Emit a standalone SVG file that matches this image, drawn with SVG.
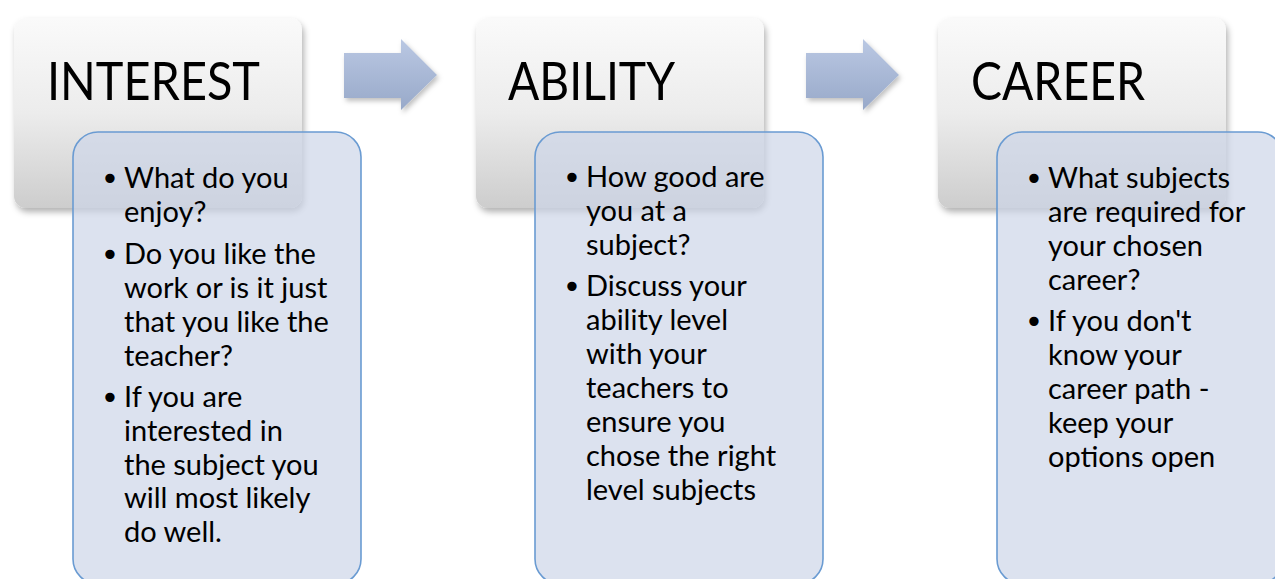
<svg xmlns="http://www.w3.org/2000/svg" width="1275" height="579" viewBox="0 0 1275 579">
  <defs>
    <linearGradient id="gHead" x1="0" y1="0" x2="0" y2="1">
      <stop offset="0" stop-color="#fafafa"/>
      <stop offset="0.5" stop-color="#ececec"/>
      <stop offset="1" stop-color="#cdcdcd"/>
    </linearGradient>
    <linearGradient id="gArrow" x1="0" y1="0" x2="0" y2="1">
      <stop offset="0" stop-color="#bac8e3"/>
      <stop offset="1" stop-color="#98a9c9"/>
    </linearGradient>
    <filter id="shadow" x="-10%" y="-10%" width="125%" height="130%">
      <feDropShadow dx="2" dy="4" stdDeviation="3" flood-color="#000" flood-opacity="0.3"/>
    </filter>
    <filter id="ashadow" x="-10%" y="-10%" width="130%" height="140%">
      <feDropShadow dx="2" dy="3" stdDeviation="2.5" flood-color="#000" flood-opacity="0.25"/>
    </filter>
  </defs>
  <style>
    .head { fill: url(#gHead); filter: url(#shadow); }
    .card { fill: rgb(205,214,232); fill-opacity: 0.7; stroke: #6a9bd2; stroke-width: 1.6; }
    .arrow { fill: url(#gArrow); filter: url(#ashadow); }
    .title { font-family: Lato, "Open Sans", sans-serif; font-size: 52px; fill: #000; }
    .body { font-family: Lato, "Open Sans", sans-serif; font-size: 29px; fill: #000; }
    .bul { font-family: "DejaVu Sans", sans-serif; font-size: 32px; fill: #000; text-anchor: middle; }
  </style>
  <rect width="1275" height="579" fill="#ffffff"/>

  <g id="connectors">
    <path class="arrow" d="M344,53 H401 V39 L437,75 L401,110 V98 H344 Z"/>
    <path class="arrow" d="M806,53 H863 V39 L899,75 L863,110 V98 H806 Z"/>
  </g>

  <g id="interest">
    <rect class="head" x="14" y="18" width="288" height="190" rx="12"/>
    <text class="title" x="47" y="100" textLength="213" lengthAdjust="spacingAndGlyphs">INTEREST</text>
    <rect class="card" x="73" y="132" width="288" height="452" rx="25"/>
    <text class="bul" x="110" y="190">•</text>
    <text class="body" x="124" y="188">What do you</text>
    <text class="body" x="124" y="222">enjoy?</text>
    <text class="bul" x="110" y="266">•</text>
    <text class="body" x="124" y="264">Do you like the</text>
    <text class="body" x="124" y="298">work or is it just</text>
    <text class="body" x="124" y="332">that you like the</text>
    <text class="body" x="124" y="366">teacher?</text>
    <text class="bul" x="110" y="409">•</text>
    <text class="body" x="124" y="407">If you are</text>
    <text class="body" x="124" y="441">interested in</text>
    <text class="body" x="124" y="475">the subject you</text>
    <text class="body" x="124" y="508">will most likely</text>
    <text class="body" x="124" y="542">do well.</text>
  </g>

  <g id="ability">
    <rect class="head" x="476" y="18" width="288" height="190" rx="12"/>
    <text class="title" x="508" y="100" textLength="167" lengthAdjust="spacingAndGlyphs">ABILITY</text>
    <rect class="card" x="535" y="132" width="288" height="452" rx="25"/>
    <text class="bul" x="572" y="189">•</text>
    <text class="body" x="586" y="187">How good are</text>
    <text class="body" x="586" y="221">you at a</text>
    <text class="body" x="586" y="255">subject?</text>
    <text class="bul" x="572" y="298">•</text>
    <text class="body" x="586" y="296">Discuss your</text>
    <text class="body" x="586" y="330">ability level</text>
    <text class="body" x="586" y="364">with your</text>
    <text class="body" x="586" y="398">teachers to</text>
    <text class="body" x="586" y="432">ensure you</text>
    <text class="body" x="586" y="466">chose the right</text>
    <text class="body" x="586" y="500">level subjects</text>
  </g>

  <g id="career">
    <rect class="head" x="938" y="18" width="288" height="190" rx="12"/>
    <text class="title" x="971" y="100" textLength="174" lengthAdjust="spacingAndGlyphs">CAREER</text>
    <rect class="card" x="997" y="132" width="286" height="452" rx="25"/>
    <text class="bul" x="1034" y="190">•</text>
    <text class="body" x="1048" y="188">What subjects</text>
    <text class="body" x="1048" y="222">are required for</text>
    <text class="body" x="1048" y="256">your chosen</text>
    <text class="body" x="1048" y="290">career?</text>
    <text class="bul" x="1034" y="333">•</text>
    <text class="body" x="1048" y="331">If you don't</text>
    <text class="body" x="1048" y="365">know your</text>
    <text class="body" x="1048" y="399">career path -</text>
    <text class="body" x="1048" y="433">keep your</text>
    <text class="body" x="1048" y="467">options open</text>
  </g>
</svg>
